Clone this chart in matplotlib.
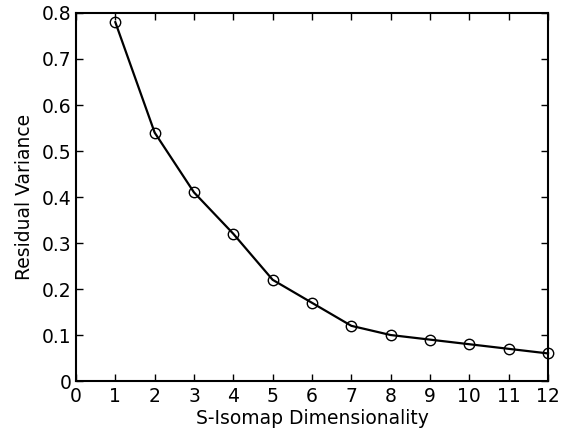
import matplotlib
matplotlib.use("Agg")
import matplotlib.pyplot as plt

dims = [1, 2, 3, 4, 5, 6, 7, 8, 9, 10, 11, 12]
residual_variance = [0.78, 0.54, 0.41, 0.32, 0.22, 0.17, 0.12, 0.10, 0.09, 0.08, 0.07, 0.06]
xticks = list(range(0, 13))
yticks = [0, 0.1, 0.2, 0.3, 0.4, 0.5, 0.6, 0.7, 0.8]
ytick_labels = ["0", "0.1", "0.2", "0.3", "0.4", "0.5", "0.6", "0.7", "0.8"]

plt.rcParams['font.family'] = ['DejaVu Sans']

fig = plt.figure(figsize=(5.65, 4.33), dpi=100)
ax = fig.add_axes([0.1345, 0.12, 0.8355, 0.85])
ax.plot(dims, residual_variance, color='black', linewidth=1.6,
        marker='o', markersize=7.5, markerfacecolor='none', markeredgecolor='black',
        markeredgewidth=1.0, clip_on=False)
ax.set_xlim(0, 12)
ax.set_ylim(0, 0.8)
ax.set_xticks(xticks)
ax.set_yticks(yticks)
ax.set_yticklabels(ytick_labels)
ax.tick_params(direction='in', top=True, right=True, labelsize=13.5, length=5, width=1, pad=3)
ax.tick_params(axis='x', pad=4.5)
for s in ax.spines.values():
    s.set_linewidth(1.5)
ax.set_xlabel("S-Isomap Dimensionality", fontsize=13.5, labelpad=2)
ax.set_ylabel("Residual Variance", fontsize=13.5, labelpad=6)
fig.savefig("out.png", dpi=100)
